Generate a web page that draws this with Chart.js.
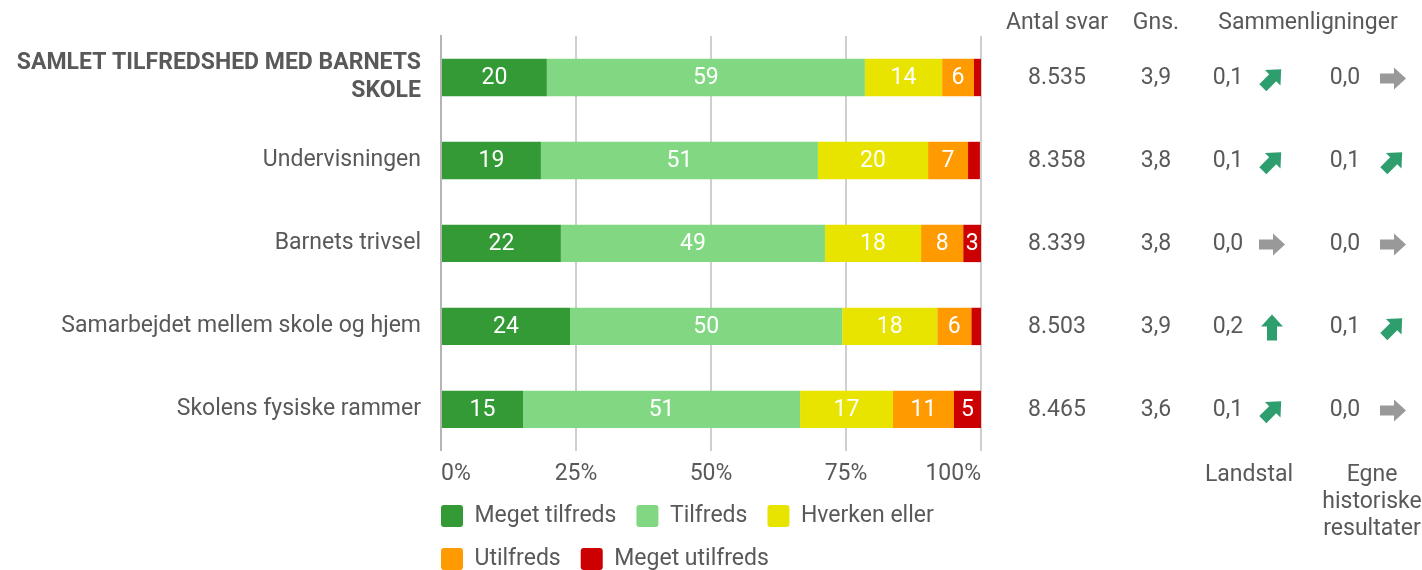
<!DOCTYPE html>
<html>
<head>
<meta charset="utf-8">
<script src="https://cdn.jsdelivr.net/npm/chart.js@4.4.1/dist/chart.umd.min.js"></script>
<style>
  html, body { margin: 0; padding: 0; background: #ffffff; }
  #wrap { width: 1422px; height: 570px; position: relative; }
</style>
</head>
<body>
<div id="wrap"><canvas id="tilfredsChart"></canvas></div>
<script>
const categories = [
  ["SAMLET TILFREDSHED MED BARNETS", "SKOLE"],
  "Undervisningen",
  "Barnets trivsel",
  "Samarbejdet mellem skole og hjem",
  "Skolens fysiske rammer",
];
const seriesNames = ["Meget tilfreds", "Tilfreds", "Hverken eller", "Utilfreds", "Meget utilfreds"];
const megetTilfreds = [19.6, 18.5, 22.2, 23.9, 15.2];
const tilfreds = [58.9, 51.3, 48.9, 50.4, 51.3];
const hverkenEller = [14.3, 20.4, 17.8, 17.6, 17.2];
const utilfreds = [5.9, 7.4, 7.8, 6.3, 11.3];
const megetUtilfreds = [1.3, 2.2, 3.3, 1.8, 5.0];
const xTicks = [0, 25, 50, 75, 100];

const antalSvar = [8535, 8358, 8339, 8503, 8465];
const gns = [3.9, 3.8, 3.8, 3.9, 3.6];
const landstal = [0.1, 0.1, 0.0, 0.2, 0.1];
const landstalDir = ["upright", "upright", "right", "up", "upright"];
const egne = [0.0, 0.1, 0.0, 0.1, 0.0];
const egneDir = ["right", "upright", "right", "upright", "right"];

const colors = ["#339a35", "#82d882", "#e8e400", "#ff9a00", "#cc0000"];
const textColor = "#595959";
const FONT = "Roboto";
const FS = 23;

Chart.defaults.font.family = FONT;
Chart.defaults.font.size = FS;
Chart.defaults.color = textColor;

const fmtComma = (v) => v.toFixed(1).replace(".", ",");
const fmtThousands = (v) => String(v).replace(/\B(?=(\d{3})+(?!\d))/g, ".");

function drawArrow(ctx, x, y, dir) {
  const angle = dir === "up" ? -Math.PI / 2 : dir === "upright" ? -Math.PI / 4 : 0;
  ctx.save();
  ctx.translate(x, y);
  ctx.rotate(angle);
  ctx.fillStyle = dir === "right" ? "#999999" : "#2e9e6e";
  ctx.beginPath();
  ctx.moveTo(-13, -5);
  ctx.lineTo(1, -5);
  ctx.lineTo(1, -11);
  ctx.lineTo(13, 0);
  ctx.lineTo(1, 11);
  ctx.lineTo(1, 5);
  ctx.lineTo(-13, 5);
  ctx.closePath();
  ctx.fill();
  ctx.restore();
}

// numbers inside the bars
const barLabels = {
  id: "barLabels",
  afterDatasetsDraw(chart) {
    const ctx = chart.ctx;
    ctx.save();
    ctx.font = FS + "px " + FONT;
    ctx.fillStyle = "#ffffff";
    ctx.textAlign = "center";
    ctx.textBaseline = "middle";
    chart.data.datasets.forEach((ds, di) => {
      chart.getDatasetMeta(di).data.forEach((bar, i) => {
        const v = ds.data[i];
        if (v < 3) return;
        const c = bar.getCenterPoint();
        ctx.fillText(Math.round(v), c.x, c.y + 1);
      });
    });
    ctx.restore();
  },
};

// table on the right side
const sideTable = {
  id: "sideTable",
  afterLayout(chart) {
    // line legend up with the left edge of the plot
    const lg = chart.legend;
    lg.left -= 20;
    lg.right -= 20;
    lg.top -= 14;
    lg.bottom -= 14;
  },
  afterDraw(chart) {
    const ctx = chart.ctx;
    const yScale = chart.scales.y;
    const r = chart.chartArea.right;
    const colAntal = r + 76, colGns = r + 175, colLand = r + 247, colLandArr = r + 291;
    const colEgne = r + 364, colEgneArr = r + 412;
    ctx.save();
    ctx.fillStyle = textColor;
    ctx.font = FS + "px " + FONT;
    ctx.textAlign = "center";
    ctx.textBaseline = "middle";
    ctx.fillText("Antal svar", colAntal, 23);
    ctx.fillText("Gns.", colGns, 23);
    ctx.fillText("Sammenligninger", r + 327, 23);
    categories.forEach((c, i) => {
      const y = yScale.getPixelForValue(i) + 1;
      ctx.fillStyle = textColor;
      ctx.fillText(fmtThousands(antalSvar[i]), colAntal, y);
      ctx.fillText(fmtComma(gns[i]), colGns, y);
      ctx.fillText(fmtComma(landstal[i]), colLand, y);
      ctx.fillText(fmtComma(egne[i]), colEgne, y);
      drawArrow(ctx, colLandArr, y, landstalDir[i]);
      drawArrow(ctx, colEgneArr, y, egneDir[i]);
    });
    ctx.fillStyle = textColor;
    ctx.fillText("Landstal", r + 268, 475);
    ctx.fillText("Egne", r + 391, 475);
    ctx.fillText("historiske", r + 391, 502);
    ctx.fillText("resultater", r + 391, 529);
    ctx.restore();
  },
};

const seriesData = [megetTilfreds, tilfreds, hverkenEller, utilfreds, megetUtilfreds];

new Chart(document.getElementById("tilfredsChart"), {
  type: "bar",
  data: {
    labels: categories,
    datasets: seriesNames.map((name, i) => ({
      label: name,
      data: seriesData[i],
      backgroundColor: colors[i],
      borderWidth: 0,
      barPercentage: 0.45,
      categoryPercentage: 1,
    })),
  },
  options: {
    indexAxis: "y",
    responsive: true,
    maintainAspectRatio: false,
    animation: false,
    layout: { padding: { top: 36, right: 441, bottom: -24.5, left: 0 } },
    plugins: {
      legend: {
        position: "bottom",
        align: "start",
        fullSize: false,
        labels: {
          boxWidth: 22,
          boxHeight: 22,
          padding: 20,
          useBorderRadius: true,
          borderRadius: 3,
          color: textColor,
          font: { size: FS },
        },
      },
      tooltip: { enabled: false },
    },
    scales: {
      x: {
        stacked: true,
        min: 0,
        max: 100,
        afterBuildTicks: (scale) => {
          scale.ticks = xTicks.map((v) => ({ value: v }));
        },
        grid: { color: "#cfcfcf", lineWidth: 2, drawTicks: false, tickLength: 0 },
        border: { display: false },
        ticks: {
          align: "inner",
          padding: 10,
          color: textColor,
          callback: (v) => v + "%",
        },
      },
      y: {
        stacked: true,
        afterFit: (scale) => {
          scale.width = 441;
        },
        grid: { display: false, tickLength: 0 },
        border: { display: true, color: "#b5b5b5", width: 2 },
        ticks: {
          padding: 20,
          color: textColor,
          font: (c) =>
            c.index === 0
              ? { size: FS, weight: "bold", lineHeight: 1.2 }
              : { size: FS },
        },
      },
    },
  },
  plugins: [barLabels, sideTable],
});
</script>
</body>
</html>
